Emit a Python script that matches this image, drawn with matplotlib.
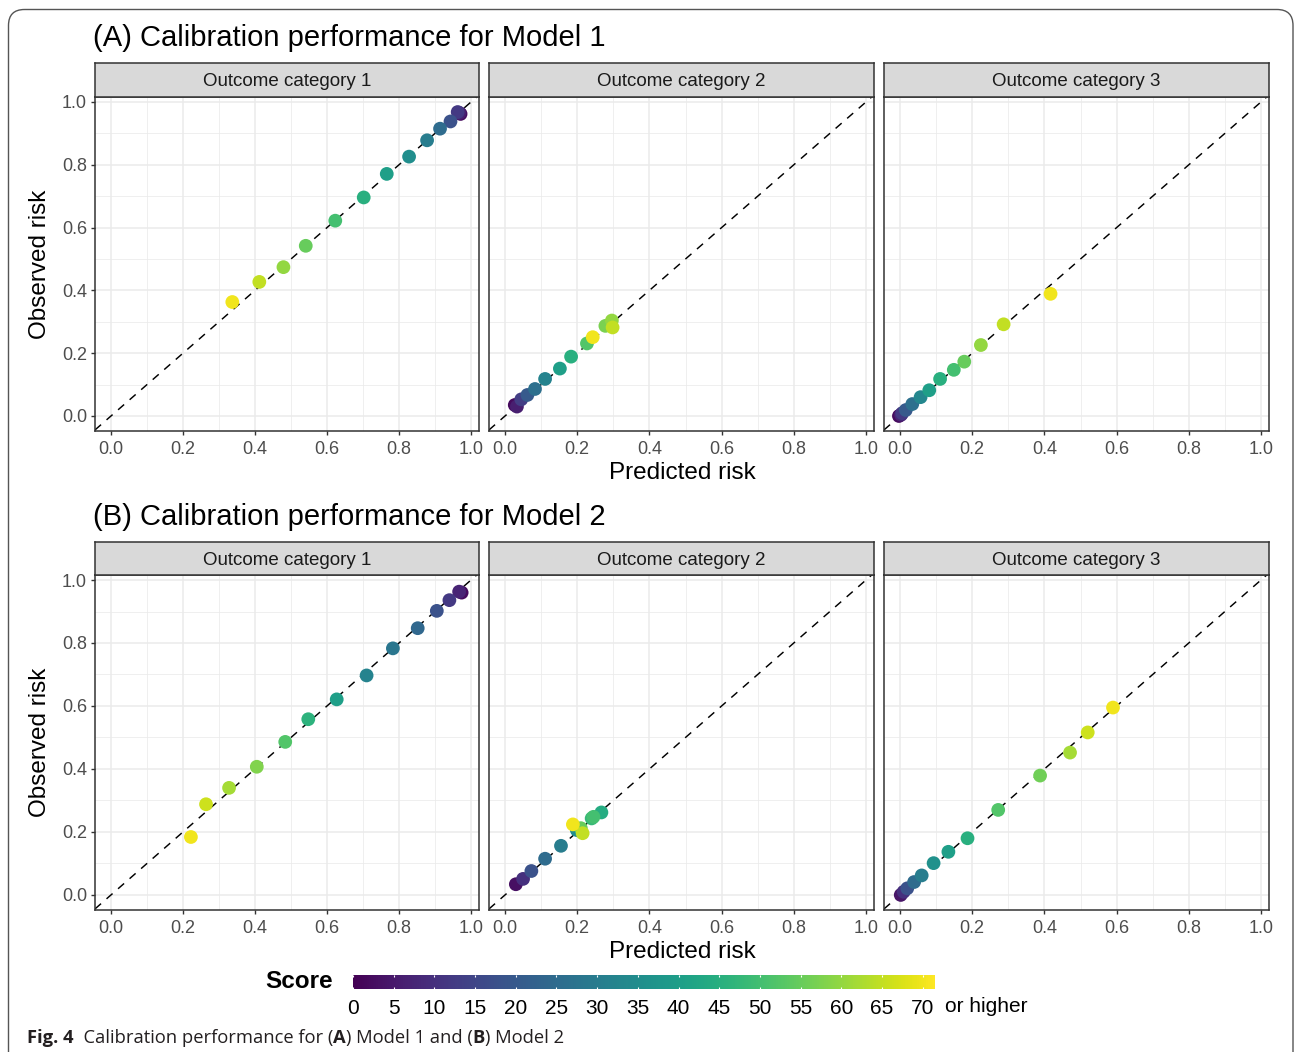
import matplotlib
matplotlib.use("Agg")
import matplotlib.pyplot as plt
import matplotlib.patches as mpatches
import numpy as np

plt.rcParams['font.family'] = ['Liberation Sans', 'DejaVu Sans']

W, H = 1295, 1052

categories = ["Outcome category 1", "Outcome category 2", "Outcome category 3"]
models = ["(A) Calibration performance for Model 1", "(B) Calibration performance for Model 2"]

# model 1
m1_c1_pred = [0.337, 0.412, 0.479, 0.541, 0.623, 0.702, 0.766, 0.828, 0.878, 0.914, 0.943, 0.963, 0.968, 0.971]
m1_c1_obs = [0.363, 0.427, 0.474, 0.542, 0.622, 0.696, 0.771, 0.826, 0.878, 0.915, 0.938, 0.968, 0.965, 0.962]
m1_c1_score = [70, 65, 60, 55, 50, 45, 40, 35, 30, 25, 18, 12, 6, 2]

m1_c2_pred = [0.027, 0.033, 0.045, 0.062, 0.083, 0.111, 0.152, 0.183, 0.227, 0.243, 0.278, 0.296, 0.298]
m1_c2_obs = [0.035, 0.030, 0.053, 0.067, 0.086, 0.118, 0.151, 0.189, 0.231, 0.251, 0.287, 0.304, 0.282]
m1_c2_score = [2, 6, 13, 20, 26, 32, 40, 45, 52, 70, 57, 60, 65]

m1_c3_pred = [-0.003, 0.003, 0.006, 0.016, 0.034, 0.057, 0.081, 0.111, 0.149, 0.178, 0.224, 0.287, 0.417]
m1_c3_obs = [0.000, 0.004, 0.009, 0.019, 0.038, 0.060, 0.082, 0.118, 0.147, 0.173, 0.226, 0.292, 0.389]
m1_c3_score = [2, 7, 12, 20, 26, 33, 40, 45, 50, 55, 60, 65, 70]

# model 2
m2_c1_pred = [0.222, 0.264, 0.328, 0.405, 0.484, 0.548, 0.627, 0.710, 0.783, 0.852, 0.905, 0.940, 0.967, 0.974]
m2_c1_obs = [0.184, 0.288, 0.340, 0.407, 0.486, 0.558, 0.621, 0.697, 0.783, 0.847, 0.902, 0.936, 0.963, 0.960]
m2_c1_score = [70, 66, 62, 58, 52, 46, 40, 32, 28, 24, 18, 12, 7, 2]

m2_c2_pred = [0.030, 0.050, 0.073, 0.111, 0.155, 0.199, 0.210, 0.240, 0.245, 0.267, 0.215, 0.188]
m2_c2_obs = [0.034, 0.051, 0.076, 0.115, 0.156, 0.206, 0.212, 0.243, 0.248, 0.262, 0.196, 0.224]
m2_c2_score = [3, 10, 18, 25, 30, 35, 55, 48, 50, 44, 65, 70]

m2_c3_pred = [0.002, 0.010, 0.020, 0.039, 0.060, 0.093, 0.134, 0.187, 0.272, 0.388, 0.471, 0.520, 0.590]
m2_c3_obs = [0.000, 0.010, 0.021, 0.041, 0.062, 0.101, 0.137, 0.180, 0.270, 0.379, 0.452, 0.516, 0.595]
m2_c3_score = [4, 10, 18, 25, 30, 36, 40, 45, 52, 56, 62, 66, 70]

panels = [
    [(m1_c1_pred, m1_c1_obs, m1_c1_score), (m1_c2_pred, m1_c2_obs, m1_c2_score), (m1_c3_pred, m1_c3_obs, m1_c3_score)],
    [(m2_c1_pred, m2_c1_obs, m2_c1_score), (m2_c2_pred, m2_c2_obs, m2_c2_score), (m2_c3_pred, m2_c3_obs, m2_c3_score)],
]

cbar_ticks = [0, 5, 10, 15, 20, 25, 30, 35, 40, 45, 50, 55, 60, 65, 70]
vmax = 71.5


def rect(l, t, r, b):
    return [l / W, 1 - b / H, (r - l) / W, (b - t) / H]


fig = plt.figure(figsize=(W / 100, H / 100), dpi=100)

# journal frame
bg = fig.add_axes([0, 0, 1, 1], zorder=-5)
bg.set_xlim(0, W)
bg.set_ylim(H, 0)
bg.axis('off')
bg.add_patch(mpatches.FancyBboxPatch((8.5, 9.5), 1284.5, 1100, boxstyle="round,pad=0,rounding_size=16",
                                     fc='none', ec='#555555', lw=1.0))

xcols = [(95, 479), (489, 874), (884, 1269)]
rows = [(97, 431, 63), (575, 910, 542)]
tick_col = '#4d4d4d'

for r, (top, bot, stop) in enumerate(rows):
    fig.text(93 / W, 1 - (stop - 25) / H, models[r], fontsize=21, ha='left', va='center')
    for c, (left, right) in enumerate(xcols):
        ax = fig.add_axes(rect(left, top, right, bot))
        pred, obs, score = panels[r][c]
        order = np.argsort(score)
        ax.axline((0, 0), slope=1, color='black', lw=1.05, dashes=(5.5, 5), zorder=2)
        ax.scatter(np.array(pred)[order], np.array(obs)[order], c=np.array(score)[order], cmap='viridis',
                   vmin=0, vmax=vmax, s=98, edgecolors='none', zorder=3)
        ax.set_xlim(-0.0444, 1.0222)
        ax.set_ylim(-0.0478, 1.0159)
        ax.set_xticks(np.arange(0, 1.01, 0.2))
        ax.set_xticks(np.arange(0.1, 1.0, 0.2), minor=True)
        ax.set_yticks(np.arange(0, 1.01, 0.2))
        ax.set_yticks(np.arange(0.1, 1.0, 0.2), minor=True)
        ax.set_xticklabels(["0.0", "0.2", "0.4", "0.6", "0.8", "1.0"])
        ax.grid(which='major', color='#ebebeb', lw=1.1)
        ax.grid(which='minor', color='#ebebeb', lw=0.55)
        ax.set_axisbelow(True)
        ax.tick_params(which='minor', length=0)
        ax.tick_params(which='major', length=3.2, width=1.0, color='#333333', labelcolor=tick_col,
                       labelsize=13, pad=2.5)
        ax.tick_params(axis='x', pad=4)
        if c == 0:
            ax.set_yticklabels(["0.0", "0.2", "0.4", "0.6", "0.8", "1.0"])
        else:
            ax.tick_params(axis='y', left=False, labelleft=False)
        for sp in ax.spines.values():
            sp.set_color('#333333')
            sp.set_linewidth(1.1)

        sax = fig.add_axes(rect(left, stop, right, top))
        sax.set_facecolor('#d9d9d9')
        sax.set_xticks([])
        sax.set_yticks([])
        for sp in sax.spines.values():
            sp.set_color('#333333')
            sp.set_linewidth(1.1)
        sax.text(0.5, 0.45, categories[c], transform=sax.transAxes, ha='center', va='center',
                 fontsize=13.5, color='#1a1a1a')

    fig.text(40 / W, 1 - (top + bot) / 2 / H, "Observed risk", rotation=90, fontsize=17.5,
             ha='center', va='center')
    fig.text(682 / W, 1 - (bot + 42) / H, "Predicted risk", fontsize=17.5, ha='center', va='center')

# colour bar
cax = fig.add_axes(rect(353, 975, 935, 989))
grad = np.linspace(0, vmax, 512).reshape(1, -1)
cax.imshow(grad, cmap='viridis', aspect='auto', extent=[0, vmax, 0, 1], vmin=0, vmax=vmax)
cax.set_xlim(0, vmax)
cax.set_yticks([])
cax.set_xticks(cbar_ticks)
cax.set_xticklabels([str(t) for t in cbar_ticks])
cax.tick_params(axis='x', direction='in', color='white', length=1.6, width=0.8, top=True,
                labelsize=15, labelcolor='black', pad=7.5)
for sp in cax.spines.values():
    sp.set_visible(False)
fig.text(333 / W, 1 - 982 / H, "Score", fontsize=17.5, fontweight='bold', ha='right', va='center')
fig.text(945 / W, 1 - 1006 / H, "or higher", fontsize=15, ha='left', va='center')

# caption
fig.canvas.draw()
renderer = fig.canvas.get_renderer()
pieces = [("Fig. 4", 'bold'), ("  Calibration performance for (", 'normal'), ("A", 'bold'),
          (") Model 1 and (", 'normal'), ("B", 'bold'), (") Model 2", 'normal')]
x = 27
for txt, wgt in pieces:
    t = fig.text(x / W, 1 - 1038 / H, txt, fontsize=13.2, fontweight=wgt, family=['Open Sans', 'DejaVu Sans'],
                 color='#231f20', ha='left', va='center')
    x += t.get_window_extent(renderer).width

fig.savefig("out.png", dpi=100)
